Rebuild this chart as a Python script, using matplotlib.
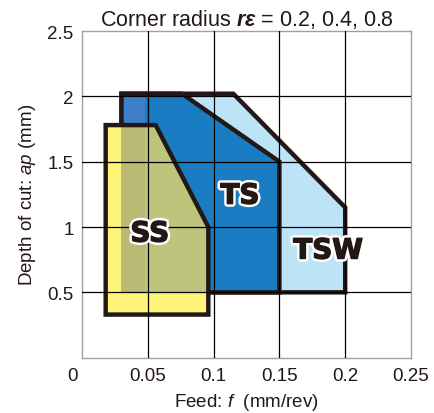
import matplotlib
matplotlib.use("Agg")
import matplotlib.pyplot as plt
import matplotlib.patheffects as pe
from matplotlib.patches import Polygon
from matplotlib.transforms import ScaledTranslation

plt.rcParams['font.family'] = ['Liberation Sans', 'DejaVu Sans']
plt.rcParams['mathtext.fontset'] = 'custom'
plt.rcParams['mathtext.rm'] = 'Liberation Sans'
plt.rcParams['mathtext.it'] = 'Liberation Sans:italic'
plt.rcParams['mathtext.bf'] = 'Liberation Sans:italic:bold'

# chipbreaker application ranges (feed f, depth of cut ap)
tsw_f = [0.03, 0.03, 0.115, 0.20, 0.20]
tsw_ap = [0.50, 2.02, 2.02, 1.15, 0.50]
ts_f = [0.03, 0.03, 0.076, 0.15, 0.15]
ts_ap = [0.50, 2.02, 2.02, 1.50, 0.50]
ss_f = [0.018, 0.018, 0.056, 0.096, 0.096]
ss_ap = [0.33, 1.78, 1.78, 1.00, 0.33]
# small-radius strip inside TS
strip_f = [0.03, 0.03, 0.048, 0.048]
strip_ap = [0.50, 2.02, 2.02, 0.50]

names = ["TSW", "TS", "SS"]
label_f = [0.187, 0.120, 0.0515]
label_ap = [0.82, 1.24, 0.95]

x_ticks = [0, 0.05, 0.1, 0.15, 0.2, 0.25]
x_labels = ["0", "0.05", "0.1", "0.15", "0.2", "0.25"]
y_ticks = [0.5, 1, 1.5, 2, 2.5]
y_labels = ["0.5", "1", "1.5", "2", "2.5"]

edge = "#231815"
lw = 3.2

fig = plt.figure(figsize=(4.35, 4.14), dpi=100)
ax = fig.add_axes([0.1885, 0.1336, 0.7563, 0.7891])
ax.set_xlim(0, 0.25)
ax.set_ylim(0, 2.5)

def poly(fs, aps, **kw):
    p = Polygon(list(zip(fs, aps)), closed=True, joinstyle="miter", **kw)
    ax.add_patch(p)
    return p

poly(tsw_f, tsw_ap, facecolor="#BDE3F7", edgecolor=edge, lw=lw, zorder=1)
poly(ts_f, ts_ap, facecolor="#1A7DC4", edgecolor="none", zorder=2)
poly(strip_f, strip_ap, facecolor="#3D80C8", edgecolor="none", zorder=2.1)
poly(ts_f, ts_ap, facecolor="none", edgecolor=edge, lw=lw, zorder=2.2)

ss_fill = poly(ss_f, ss_ap, facecolor="#FFF47A", edgecolor="none", zorder=3)
olive = poly(ts_f, ts_ap, facecolor="#BFC47D", edgecolor="none", zorder=3.1)
olive.set_clip_path(ss_fill)
olive2 = poly(strip_f, strip_ap, facecolor="#BABA74", edgecolor="none", zorder=3.2)
olive2.set_clip_path(ss_fill)
poly(ss_f, ss_ap, facecolor="none", edgecolor=edge, lw=lw, zorder=3.3)

# grid lines over the regions
for v in x_ticks[1:-1]:
    ax.axvline(v, color="black", lw=0.9, zorder=4)
for v in y_ticks[:-1]:
    ax.axhline(v, color="black", lw=0.9, zorder=4)

for name, f, a in zip(names, label_f, label_ap):
    ax.text(f, a, name, ha="center", va="center", fontsize=20,
            family="DejaVu Sans", fontweight="bold", color=edge, zorder=6,
            path_effects=[pe.Stroke(linewidth=4.5, foreground="white"),
                          pe.Stroke(linewidth=1.0, foreground=edge),
                          pe.Normal()])

ax.set_xticks(x_ticks)
ax.set_xticklabels(x_labels)
ax.set_yticks(y_ticks)
ax.set_yticklabels(y_labels)
ax.tick_params(length=0, labelsize=13.5, colors="#231815", pad=7)
ax.tick_params(axis="y", pad=6)
for s in ax.spines.values():
    s.set_color("#a0a0a0")
    s.set_linewidth(1.0)

# shared origin label sits left of the corner
lab0 = ax.get_xticklabels()[0]
lab0.set_transform(lab0.get_transform() + ScaledTranslation(-7 / 72, 0, fig.dpi_scale_trans))

ax.set_xlabel(r"Feed: $\mathit{f}$  (mm/rev)", fontsize=13.5, color="#231815", labelpad=5)
ax.set_ylabel(r"Depth of cut: $\mathit{ap}$ (mm)", fontsize=13.5, color="#231815", labelpad=7)
ax.set_title(r"Corner radius $\mathbf{r\epsilon}$ = 0.2, 0.4, 0.8", fontsize=15.5,
             color="#231815", pad=4)

fig.savefig("out.png", dpi=100)
